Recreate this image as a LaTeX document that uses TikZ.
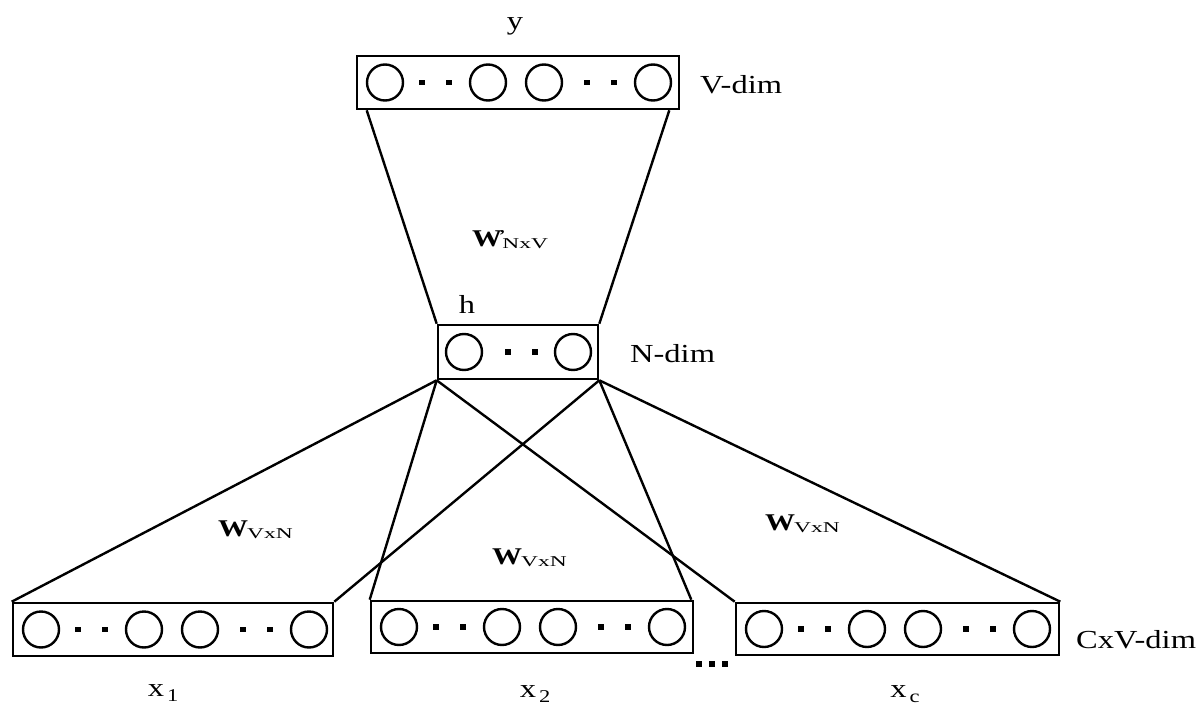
\documentclass[tikz,border=0pt]{standalone}
\usepackage{fontspec}
\setmainfont{Liberation Serif}[FakeStretch=1.25]
\usetikzlibrary{calc}
\tikzset{
  layer/.style={draw, rectangle, line width=2.6pt, inner sep=0pt},
  unit/.style={draw, circle, line width=2.4pt, minimum size=36pt, inner sep=0pt},
  dotm/.style={fill, rectangle, minimum size=5.5pt, inner sep=0pt},
  conn/.style={line width=2.4pt},
  lbl/.style={font=\fontsize{26}{26}\selectfont, inner sep=0pt},
  wlbl/.style={font=\fontsize{24}{24}\selectfont, inner sep=0pt},
}
\newcommand{\wsub}[1]{\textbf{W}\kern-1pt\raisebox{-2pt}{\scalebox{1.25}[1]{\fontsize{15}{15}\selectfont #1}}}
\newcommand{\vecrow}[3]{%
  \foreach \dx [count=\i] in {28,131,187,296} {\node[unit] (#1-c\i) at (#2+\dx,#3) {};}
  \foreach \dx [count=\i] in {65,92,230,257} {\node[dotm] (#1-d\i) at (#2+\dx,#3) {};}
}
\begin{document}
\begin{tikzpicture}[x=1pt,y=-1pt]
\useasboundingbox (0,0) rectangle (1203,704);
% layers
\node[layer, minimum width=322pt, minimum height=53pt] (top) at (518,82.5) {};
\vecrow{top}{357}{82.5}
\node[layer, minimum width=160pt, minimum height=54pt] (hid) at (518,352) {};
\node[unit] (hid-c1) at (464,352) {};
\node[unit] (hid-c2) at (573,352) {};
\node[dotm] (hid-d1) at (508,352) {};
\node[dotm] (hid-d2) at (535,352) {};
\node[layer, minimum width=320pt, minimum height=53pt] (xa) at (173,629.5) {};
\vecrow{xa}{13}{629.5}
\node[layer, minimum width=322pt, minimum height=52pt] (xb) at (532,627) {};
\vecrow{xb}{371}{627}
\node[layer, minimum width=323pt, minimum height=52pt] (xc) at (897.5,629) {};
\vecrow{xc}{736}{629}
% ellipsis between inputs
\node[dotm] (e1) at (699,664) {};
\node[dotm] (e2) at (712,664) {};
\node[dotm] (e3) at (725,664) {};
% connectors
\draw[conn] ($(top.south west)+(11,0)$) -- (hid.north west);
\draw[conn] ($(top.south east)+(-11,0)$) -- (hid.north east);
\draw[conn] (hid.south west) -- (xa.north west);
\draw[conn] (hid.south west) -- (xb.north west);
\draw[conn] (hid.south west) -- (xc.north west);
\draw[conn] (hid.south east) -- (xa.north east);
\draw[conn] (hid.south east) -- ($(xb.north east)+(-3,0)$);
\draw[conn] (hid.south east) -- (xc.north east);
% labels
\node[lbl, anchor=base] (ly) at (515,30) {y};
\node[lbl, anchor=base west] (lv) at (700,93) {V-dim};
\node[lbl, anchor=base] (lh) at (467,313) {h};
\node[lbl, anchor=base west] (ln) at (630,362) {N-dim};
\node[lbl, anchor=base west] (lc) at (1076,648) {CxV-dim};
\node[lbl, anchor=base] (l1) at (163,696) {x\kern3pt\raisebox{-5pt}{\fontsize{18}{18}\selectfont 1}};
\node[lbl, anchor=base] (l2) at (535,697) {x\kern3pt\raisebox{-5pt}{\fontsize{18}{18}\selectfont 2}};
\node[lbl, anchor=base] (l3) at (905,697) {x\kern3pt\raisebox{-5pt}{\fontsize{18}{18}\selectfont c}};
\node[wlbl, anchor=base west] (w0) at (472,246) {\textbf{W}\kern-3pt\raisebox{6pt}{\fontsize{15}{15}\selectfont\textbf{'}}\kern-3pt\raisebox{-2pt}{\scalebox{1.25}[1]{\fontsize{15}{15}\selectfont NxV}}};
\node[wlbl, anchor=base west] (w1) at (218,536) {\wsub{VxN}};
\node[wlbl, anchor=base west] (w2) at (492,564) {\wsub{VxN}};
\node[wlbl, anchor=base west] (w3) at (765,530) {\wsub{VxN}};
\end{tikzpicture}
\end{document}
